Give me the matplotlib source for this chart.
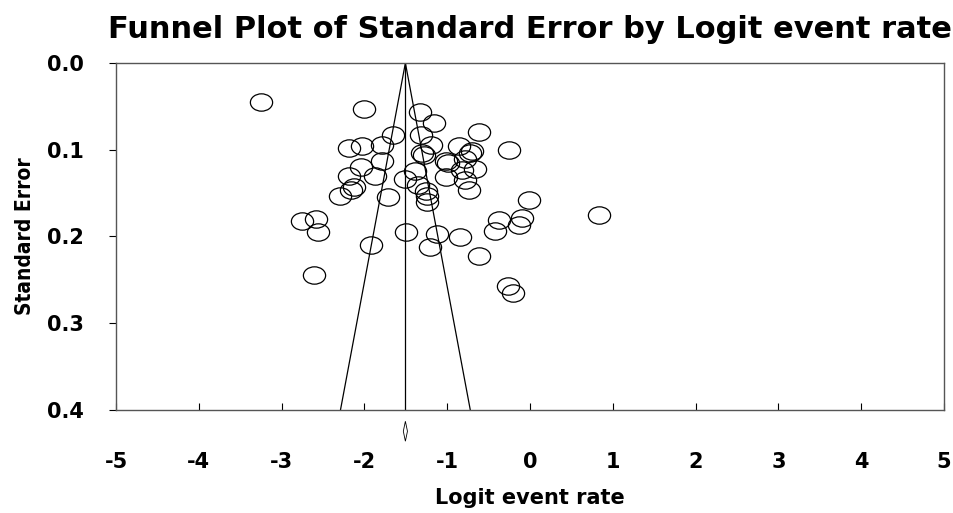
import numpy as np
import matplotlib
matplotlib.use("Agg")
import matplotlib.pyplot as plt
from matplotlib.path import Path

# study estimates (logit event rate) and their standard errors
logit_rate = [-3.25, -2.00, -1.33, -1.16, -0.61, -1.65, -1.32, -2.19, -2.03, -1.79,
              -1.20, -0.86, -0.70, -0.72, -0.25, -1.30, -1.28, -1.01, -0.99, -0.78,
              -1.79, -2.04, -2.19, -1.87, -1.39, -0.66, -0.82, -1.02, -0.79, -0.74,
              -1.51, -1.35, -1.26, -1.24, -1.24, -2.13, -2.16, -2.30, -1.71, -2.75,
              -2.58, -2.56, -1.92, -2.61, -1.50, -1.12, -0.85, -1.21, -0.62, -0.01,
              0.83, -0.38, -0.10, -0.42, -0.13, -0.27, -0.21]
std_err = [0.045, 0.053, 0.057, 0.069, 0.079, 0.083, 0.083, 0.098, 0.096, 0.095,
           0.095, 0.096, 0.101, 0.104, 0.100, 0.104, 0.106, 0.113, 0.115, 0.111,
           0.113, 0.120, 0.130, 0.130, 0.125, 0.122, 0.123, 0.131, 0.135, 0.146,
           0.134, 0.141, 0.147, 0.153, 0.160, 0.143, 0.146, 0.153, 0.155, 0.182,
           0.180, 0.195, 0.210, 0.244, 0.195, 0.197, 0.201, 0.212, 0.223, 0.158,
           0.175, 0.181, 0.179, 0.194, 0.187, 0.257, 0.265]

pooled = -1.505
se_max = 0.4
x_ticks = [-5, -4, -3, -2, -1, 0, 1, 2, 3, 4, 5]
y_ticks = [0.0, 0.1, 0.2, 0.3, 0.4]

fig = plt.figure(figsize=(9.54, 5.13), dpi=100)
ax = fig.add_axes([0.1216, 0.2008, 0.8679, 0.6764])

# slightly flattened circle marker
circ = Path.unit_circle()
oval = Path(circ.vertices * np.array([1.0, 0.78]), circ.codes)
ax.plot(logit_rate, std_err, linestyle="none", marker=oval, markersize=16,
        markerfacecolor="none", markeredgecolor="black", markeredgewidth=0.9)

# funnel (95% limits) and pooled estimate line
ax.plot([pooled - 1.96 * se_max, pooled, pooled + 1.96 * se_max],
        [se_max, 0, se_max], color="black", linewidth=0.9)
ax.plot([pooled, pooled], [0, se_max], color="black", linewidth=0.9)

# pooled estimate diamond below the axis
dx = 0.025
ax.fill([pooled - dx, pooled, pooled + dx, pooled],
        [0.4245, 0.413, 0.4245, 0.436], facecolor="white",
        edgecolor="black", linewidth=0.6, clip_on=False)

ax.set_xlim(-5, 5)
ax.set_ylim(0.4, 0.0)
ax.set_xticks(x_ticks)
ax.set_xticklabels([str(t) for t in x_ticks])
ax.set_yticks(y_ticks)
ax.set_yticklabels([f"{t:.1f}" for t in y_ticks])

ax.tick_params(axis="x", direction="in", length=5, width=0.8, pad=30,
               labelsize=15)
ax.tick_params(axis="y", direction="out", length=5, width=0.8, pad=18,
               labelsize=15)
for lab in ax.get_xticklabels() + ax.get_yticklabels():
    lab.set_fontweight("bold")

for sp in ax.spines.values():
    sp.set_color("#555555")
    sp.set_linewidth(1.0)

ax.set_xlabel("Logit event rate", fontsize=15, fontweight="bold", labelpad=12)
ax.set_ylabel("Standard Error", fontsize=15, fontweight="bold",
              family="DejaVu Sans", fontstretch="condensed", labelpad=9)
ax.set_title("Funnel Plot of Standard Error by Logit event rate",
             fontsize=22, fontweight="bold", pad=18)

fig.savefig("out.png", dpi=100)
